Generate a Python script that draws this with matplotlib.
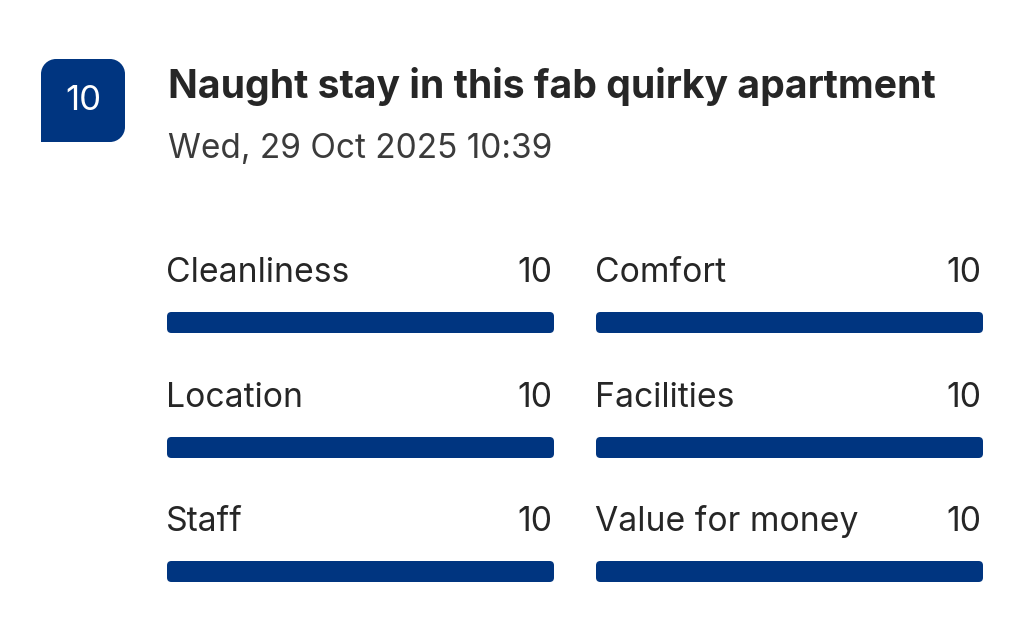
import matplotlib.pyplot as plt
from matplotlib.patches import FancyBboxPatch, PathPatch
from matplotlib.path import Path

plt.rcParams['font.family'] = ['Inter', 'DejaVu Sans']

# review data
overall_score = 10
title = "Naught stay in this fab quirky apartment"
date_text = "Wed, 29 Oct 2025 10:39"
categories = ["Cleanliness", "Comfort", "Location", "Facilities", "Staff", "Value for money"]
scores = [10, 10, 10, 10, 10, 10]
max_score = 10

blue = "#003580"
track = "#e7e7e7"
W, H = 1024, 639

fig = plt.figure(figsize=(W / 100, H / 100), dpi=100)
fig.patch.set_facecolor("white")

# full-figure pixel canvas for text and badge
canvas = fig.add_axes([0, 0, 1, 1])
canvas.set_xlim(0, W)
canvas.set_ylim(H, 0)
canvas.axis("off")

# badge: rounded except bottom-left corner
x0, y0, x1, y1, r = 41, 59, 125, 142, 15
k = 0.55 * r
verts = [
    (x0, y1),
    (x0, y0 + r),
    (x0, y0 + r - k), (x0 + r - k, y0), (x0 + r, y0),
    (x1 - r, y0),
    (x1 - r + k, y0), (x1, y0 + r - k), (x1, y0 + r),
    (x1, y1 - r),
    (x1, y1 - r + k), (x1 - r + k, y1), (x1 - r, y1),
    (x0, y1),
]
codes = [Path.MOVETO, Path.LINETO,
         Path.CURVE4, Path.CURVE4, Path.CURVE4,
         Path.LINETO,
         Path.CURVE4, Path.CURVE4, Path.CURVE4,
         Path.LINETO,
         Path.CURVE4, Path.CURVE4, Path.CURVE4,
         Path.CLOSEPOLY]
canvas.add_patch(PathPatch(Path(verts, codes), facecolor=blue, edgecolor="none"))
canvas.text((x0 + x1) / 2, (y0 + y1) / 2 + 1, str(overall_score), color="white",
            fontsize=25, ha="center", va="center")

canvas.text(168, 98, title, fontsize=28.2, fontweight="bold", color="#262626", va="baseline")
canvas.text(168, 158, date_text, fontsize=24, color="#3b3b3b", va="baseline")

# grid of category bars
col_left = [167, 596]
bar_w = 387
row_top = [312, 437, 561]
bar_h = 21

for i, (cat, val) in enumerate(zip(categories, scores)):
    col, row = i % 2, i // 2
    left = col_left[col]
    top = row_top[row]
    canvas.text(left - 1, top - 30, cat, fontsize=24.3, color="#262626", va="baseline")
    canvas.text(left + bar_w - 2, top - 30, str(val), fontsize=24.3, color="#262626",
                va="baseline", ha="right")

    ax = fig.add_axes([left / W, 1 - (top + bar_h) / H, bar_w / W, bar_h / H])
    ax.set_xlim(0, max_score)
    ax.set_ylim(0, 1)
    ax.axis("off")
    aspect = (1 / bar_h) / (max_score / bar_w)
    rs = 4.5 * max_score / bar_w
    ax.add_patch(FancyBboxPatch((0, 0), max_score, 1,
                                boxstyle=f"round,pad=0,rounding_size={rs}",
                                mutation_aspect=aspect, facecolor=track, edgecolor="none"))
    ax.add_patch(FancyBboxPatch((0, 0), val, 1,
                                boxstyle=f"round,pad=0,rounding_size={rs}",
                                mutation_aspect=aspect, facecolor=blue, edgecolor="none"))

fig.savefig("out.png", dpi=100, facecolor="white")
